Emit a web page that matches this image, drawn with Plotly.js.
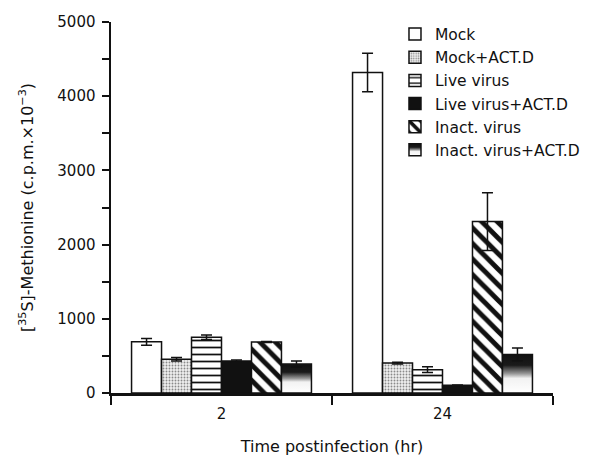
<!DOCTYPE html>
<html><head><meta charset="utf-8">
<script src="https://cdn.plot.ly/plotly-3.0.1.min.js"></script>
<style>body{margin:0;background:#fff}#c{width:599px;height:456px}</style>
</head><body><div id="c"></div>
<script>
const categories = ["2", "24"];
const seriesNames = ["Mock", "Mock+ACT.D", "Live virus", "Live virus+ACT.D", "Inact. virus", "Inact. virus+ACT.D"];
const mock = [690, 4320];
const mockErr = [45, 260];
const mockAct = [455, 404];
const mockActErr = [25, 12];
const live = [750, 315];
const liveErr = [30, 40];
const liveAct = [431, 104];
const liveActErr = [15, 5];
const inact = [687, 2310];
const inactErr = [8, 390];
const inactAct = [390, 520];
const inactActErr = [40, 85];

const values = [mock, mockAct, live, liveAct, inact, inactAct];
const errors = [mockErr, mockActErr, liveErr, liveActErr, inactErr, inactActErr];
const styles = [
  {color: "#ffffff", pattern: {shape: ""}},
  {color: "#ffffff", pattern: {shape: ".", fgcolor: "#8a8a8a", bgcolor: "#efefef", size: 3, solidity: 0.3, fillmode: "replace"}},
  {color: "#ffffff", pattern: {shape: "-", fgcolor: "#111", bgcolor: "#fff", size: 7, solidity: 0.25, fillmode: "replace"}},
  {color: "#111111", pattern: {shape: ""}},
  {color: "#ffffff", pattern: {shape: "\\", fgcolor: "#111", bgcolor: "#fff", size: 11, solidity: 0.45, fillmode: "replace"}},
  {color: "#888888", pattern: {shape: ""}}
];

const FONT = "DejaVu Sans, Liberation Sans, Arial, sans-serif";
const traces = seriesNames.map((n, i) => ({
  type: "bar", name: n, x: categories, y: values[i],
  marker: {color: styles[i].color, line: {color: "#111", width: 1.5}, pattern: styles[i].pattern},
  error_y: {type: "data", array: errors[i], visible: true, color: "#111", thickness: 1.5, width: 5.5}
}));

const layout = {
  width: 599, height: 456,
  margin: {l: 111, r: 46, t: 22, b: 63, autoexpand: false},
  paper_bgcolor: "#fff", plot_bgcolor: "#fff",
  font: {family: FONT, size: 15, color: "#111"},
  barmode: "group", bargap: 0.186, bargroupgap: 0,
  showlegend: true,
  legend: {x: 0.6425, xanchor: "left", y: 1.012, yanchor: "top", bgcolor: "rgba(0,0,0,0)",
           font: {family: FONT, size: 15.5, color: "#111"}, tracegroupgap: 0},
  xaxis: {
    type: "category", range: [-0.5, 1.5], tickson: "boundaries",
    showline: true, linecolor: "#111", linewidth: 2.5, ticks: "outside", ticklen: 9, tickwidth: 2.5, tickcolor: "#111",
    showgrid: false, zeroline: false, ticklabelstandoff: 5,
    title: {text: "Time postinfection (hr)", font: {family: FONT, size: 16}, standoff: 22},
    tickfont: {family: FONT, size: 15}
  },
  yaxis: {
    range: [0, 5000], dtick: 1000, tick0: 0,
    showline: true, linecolor: "#111", linewidth: 2.5, ticks: "outside", ticklen: 7, tickwidth: 2, tickcolor: "#111",
    minor: {dtick: 500, ticks: "outside", ticklen: 7, tickwidth: 2, tickcolor: "#111"},
    showgrid: false, zeroline: false, ticklabelstandoff: 3,
    title: {text: "[<sup>35</sup>S]-Methionine (c.p.m.×10<sup>−3</sup>)", font: {family: FONT, size: 16}, standoff: 20},
    tickfont: {family: FONT, size: 15}
  }
};

function applyGradient(gd) {
  const svg = gd.querySelector("svg.main-svg");
  const ns = "http://www.w3.org/2000/svg";
  let defs = svg.querySelector("defs");
  if (!defs) { defs = document.createElementNS(ns, "defs"); svg.insertBefore(defs, svg.firstChild); }
  const g = document.createElementNS(ns, "linearGradient");
  g.setAttribute("id", "inactActGrad");
  g.setAttribute("x1", "0"); g.setAttribute("y1", "0"); g.setAttribute("x2", "0"); g.setAttribute("y2", "1");
  [["0", "#111"], ["0.28", "#1a1a1a"], ["0.5", "#999"], ["0.62", "#f2f2f2"], ["1", "#fff"]].forEach(([o, c]) => {
    const s = document.createElementNS(ns, "stop");
    s.setAttribute("offset", o); s.setAttribute("stop-color", c); g.appendChild(s);
  });
  defs.appendChild(g);
  const barTraces = gd.querySelectorAll(".barlayer .trace.bars");
  if (barTraces[5]) barTraces[5].querySelectorAll(".point path").forEach(p => { p.style.fill = "url(#inactActGrad)"; });
  const legTraces = gd.querySelectorAll(".legend .traces");
  if (legTraces[5]) legTraces[5].querySelectorAll(".legendpoints path").forEach(p => { p.style.fill = "url(#inactActGrad)"; });
}

Plotly.newPlot("c", traces, layout, {displayModeBar: false, staticPlot: true}).then(applyGradient);
</script></body></html>
